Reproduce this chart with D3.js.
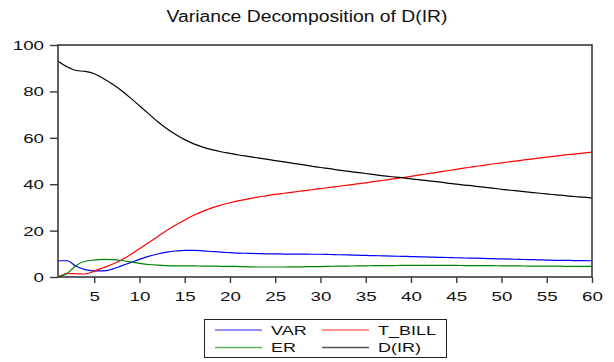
<!DOCTYPE html>
<html>
<head>
<meta charset="utf-8">
<script src="https://cdn.jsdelivr.net/npm/d3@7/dist/d3.min.js"></script>
<style>
  html, body { margin: 0; padding: 0; background: #fff; }
  svg { display: block; }
  text { font-family: "Liberation Sans", Arial, sans-serif; fill: #111; }
</style>
</head>
<body>
<svg id="chart" width="614" height="362"></svg>
<script>
// Forecast horizons 1..60
const horizons = d3.range(1, 61);

// Variance decomposition shares (%) of D(IR) by shock source
const varShare = [7.0, 7.0, 4.6, 3.2, 2.6, 2.6, 3.4, 4.8, 6.2, 7.6,
  8.9, 9.9, 10.7, 11.2, 11.5, 11.5, 11.3, 11.0, 10.7, 10.5,
  10.3, 10.2, 10.1, 10.0, 10.0, 9.9, 9.9, 9.9, 9.8, 9.8,
  9.7, 9.6, 9.5, 9.4, 9.3, 9.2, 9.1, 9.0, 8.9, 8.8,
  8.7, 8.6, 8.5, 8.4, 8.3, 8.2, 8.1, 8.0, 7.9, 7.8,
  7.7, 7.6, 7.5, 7.4, 7.3, 7.2, 7.2, 7.1, 7.1, 7.0];

const tbillShare = [0.0, 1.5, 1.4, 1.3, 2.5, 4.0, 5.5, 7.3, 9.6, 12.2,
  14.8, 17.4, 20.0, 22.4, 24.6, 26.6, 28.3, 29.8, 31.0, 32.0,
  32.9, 33.7, 34.4, 35.0, 35.6, 36.1, 36.6, 37.1, 37.6, 38.1,
  38.6, 39.1, 39.6, 40.1, 40.6, 41.2, 41.7, 42.3, 42.8, 43.4,
  44.0, 44.6, 45.2, 45.8, 46.4, 47.0, 47.6, 48.1, 48.7, 49.2,
  49.7, 50.2, 50.7, 51.2, 51.7, 52.1, 52.6, 53.0, 53.4, 53.8];

const erShare = [0.0, 1.5, 5.0, 6.8, 7.3, 7.6, 7.5, 7.1, 6.5, 5.9,
  5.4, 5.1, 4.9, 4.8, 4.8, 4.8, 4.7, 4.7, 4.6, 4.6,
  4.5, 4.4, 4.3, 4.3, 4.3, 4.3, 4.4, 4.4, 4.5, 4.5,
  4.6, 4.7, 4.7, 4.8, 4.8, 4.9, 4.9, 4.9, 5.0, 5.0,
  5.0, 5.0, 5.0, 5.0, 5.0, 4.9, 4.9, 4.9, 4.9, 4.8,
  4.8, 4.8, 4.7, 4.7, 4.7, 4.7, 4.6, 4.6, 4.6, 4.6];

const irShare = [93.0, 90.6, 89.0, 88.6, 87.6, 85.6, 83.2, 80.4, 77.2, 73.8,
  70.4, 67.0, 64.0, 61.4, 59.2, 57.4, 56.0, 54.9, 54.0, 53.3,
  52.6, 52.0, 51.4, 50.8, 50.2, 49.6, 49.0, 48.4, 47.8, 47.2,
  46.7, 46.1, 45.6, 45.1, 44.6, 44.1, 43.6, 43.2, 42.8, 42.3,
  41.9, 41.4, 41.0, 40.5, 40.0, 39.6, 39.2, 38.7, 38.3, 37.8,
  37.4, 37.0, 36.6, 36.2, 35.8, 35.4, 35.1, 34.7, 34.4, 34.0];

const seriesNames = ["VAR", "T_BILL", "ER", "D(IR)"];
const xTicks = [5, 10, 15, 20, 25, 30, 35, 40, 45, 50, 55, 60];
const yTicks = [0, 20, 40, 60, 80, 100];
const titleText = "Variance Decomposition of D(IR)";

const series = [
  { name: "VAR", values: varShare, color: "#0000ff", legendColor: "#6e6eff" },
  { name: "T_BILL", values: tbillShare, color: "#ff0000", legendColor: "#ff6e6e" },
  { name: "ER", values: erShare, color: "#008000", legendColor: "#5fb05f" },
  { name: "D(IR)", values: irShare, color: "#000000", legendColor: "#555555" }
];

const svg = d3.select("#chart");
const plot = { left: 58, right: 592, top: 45, bottom: 277 };

const x = d3.scaleLinear().domain([1, 60]).range([plot.left, plot.right]);
const y = d3.scaleLinear().domain([0, 100]).range([plot.bottom, plot.top]);

const frameColor = "#3a3a3a";
const stretch = 1.5; // horizontally widened lettering

// Title
svg.append("text")
  .attr("x", 307).attr("y", 22)
  .attr("text-anchor", "middle")
  .attr("font-size", 16)
  .attr("textLength", 281)
  .attr("lengthAdjust", "spacingAndGlyphs")
  .text(titleText);

// Series lines
const line = d3.line()
  .x((d, i) => x(horizons[i]))
  .y(d => y(d))
  .curve(d3.curveMonotoneX);

const lines = svg.append("g");
series.forEach(s => {
  lines.append("path")
    .datum(s.values)
    .attr("d", line)
    .attr("fill", "none")
    .attr("stroke", s.color)
    .attr("stroke-width", 1.2);
});

// Frame
svg.append("rect")
  .attr("x", plot.left).attr("y", plot.top)
  .attr("width", plot.right - plot.left)
  .attr("height", plot.bottom - plot.top)
  .attr("fill", "none")
  .attr("stroke", frameColor)
  .attr("stroke-width", 1.6);

// Y axis
const yAxis = svg.append("g")
  .attr("transform", `translate(${plot.left},0)`)
  .call(d3.axisLeft(y).tickValues(yTicks).tickSize(8).tickFormat(d3.format("d")));
yAxis.select(".domain").remove();
yAxis.selectAll(".tick line").attr("stroke", frameColor).attr("stroke-width", 1.4);
yAxis.selectAll(".tick text").each(function(d) {
  const t = d3.select(this);
  t.attr("font-size", 12.5).attr("font-family", "Liberation Sans, Arial, sans-serif")
   .attr("fill", "#111")
   .attr("x", 0).attr("dy", null).attr("y", 0).attr("text-anchor", "end")
   .attr("transform", `translate(-14,4.5) scale(${stretch},1)`);
});

// X axis
const xAxis = svg.append("g")
  .attr("transform", `translate(0,${plot.bottom})`)
  .call(d3.axisBottom(x).tickValues(xTicks).tickSize(6).tickFormat(d3.format("d")));
xAxis.select(".domain").remove();
xAxis.selectAll(".tick line").attr("stroke", frameColor).attr("stroke-width", 1.4);
xAxis.selectAll(".tick text").each(function() {
  d3.select(this)
    .attr("font-size", 12.5).attr("font-family", "Liberation Sans, Arial, sans-serif")
    .attr("fill", "#111")
    .attr("x", 0).attr("y", 0).attr("dy", null).attr("text-anchor", "middle")
    .attr("transform", `translate(0,23.5) scale(${stretch},1)`);
});

// Legend
const legend = svg.append("g");
legend.append("rect")
  .attr("x", 204.5).attr("y", 319.5)
  .attr("width", 242).attr("height", 38)
  .attr("fill", "#fff")
  .attr("stroke", "#222").attr("stroke-width", 1);

const legendPos = [
  { lx: 215, ly: 330 }, { lx: 322, ly: 330 },
  { lx: 215, ly: 347.5 }, { lx: 322, ly: 347.5 }
];
series.forEach((s, i) => {
  const p = legendPos[i];
  legend.append("line")
    .attr("x1", p.lx).attr("x2", p.lx + 47)
    .attr("y1", p.ly).attr("y2", p.ly)
    .attr("stroke", s.legendColor).attr("stroke-width", 1.4);
  legend.append("text")
    .attr("transform", `translate(${p.lx + 56},${p.ly + 4.5}) scale(${stretch},1)`)
    .attr("font-size", 12)
    .text(seriesNames[i]);
});
</script>
</body>
</html>
